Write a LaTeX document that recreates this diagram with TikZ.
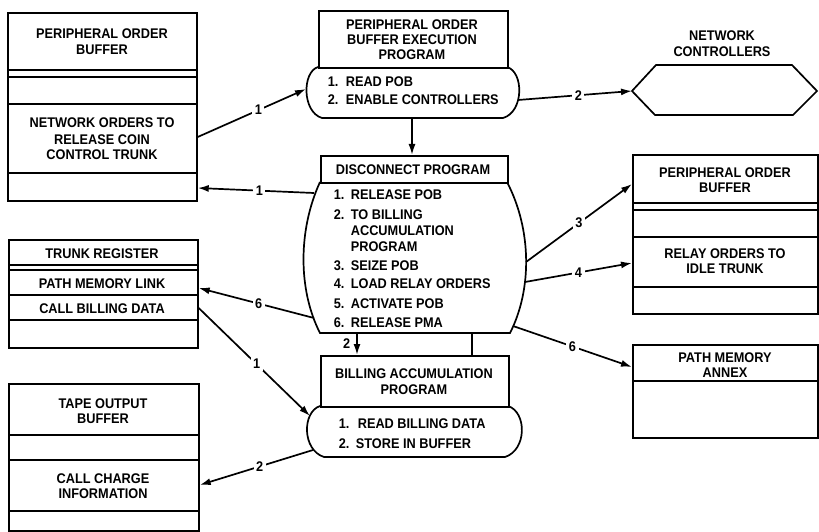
\documentclass[tikz,border=0pt]{standalone}
\usepackage{fontspec}
\setmainfont{Liberation Sans}[FakeStretch=0.91]
\usetikzlibrary{arrows.meta}
\begin{document}
\begin{tikzpicture}[x=1pt,y=-1pt, line width=1.7pt,
  box/.style={draw, rectangle, inner sep=0pt, anchor=north west},
  tx/.style={inner sep=0pt, anchor=base, font=\fontsize{14}{16}\selectfont\bfseries},
  txl/.style={tx, anchor=base west},
  arr/.style={-{Latex[length=11pt,width=7pt]}},
  lab/.style={fill=white, inner sep=2.5pt, font=\fontsize{14}{16}\selectfont\bfseries}]
\useasboundingbox (0,0) rectangle (819,532);

% ---------- left top: peripheral order buffer ----------
\node[box, minimum width=189pt, minimum height=188pt] (pobL) at (7,12) {};
\foreach \yy in {70,77,104,173} \draw (pobL.west |- 0,\yy) -- (pobL.east |- 0,\yy);
\node[tx] (pobLt1) at (102,39) {PERIPHERAL ORDER};
\node[tx] (pobLt2) at (102,55) {BUFFER};
\node[tx] (pobLb1) at (102,128) {NETWORK ORDERS TO};
\node[tx] (pobLb2) at (102,144) {RELEASE COIN};
\node[tx] (pobLb3) at (102,160) {CONTROL TRUNK};

% ---------- POB execution program ----------
\node[box, minimum width=189pt, minimum height=57pt] (pobep) at (318,10) {};
\node[tx] (pobept1) at (412,30) {PERIPHERAL ORDER};
\node[tx] (pobept2) at (412,45) {BUFFER EXECUTION};
\node[tx] (pobept3) at (412,60) {PROGRAM};
\draw (318,67) .. controls (302,72) and (302,112) .. (322,118) -- (503,118)
      .. controls (524,112) and (524,72) .. (507,67);
\node[txl] (pobepi1) at (327,87) {\makebox[18pt][l]{1.}READ POB};
\node[txl] (pobepi2) at (327,105) {\makebox[18pt][l]{2.}ENABLE CONTROLLERS};
\coordinate (pobepL) at (306,89);
\coordinate (pobepR) at (518,100);
\coordinate (pobepB) at (412,118);

% ---------- network controllers ----------
\coordinate (ncL) at (632,91);
\draw (ncL) -- (656,65) -- (792,65) -- (817,91) -- (793,115) -- (655,115) -- cycle;
\node[tx] (nct1) at (722,41) {NETWORK};
\node[tx] (nct2) at (722,57) {CONTROLLERS};

% ---------- disconnect program ----------
\node[box, minimum width=187pt, minimum height=27pt] (disc) at (320,155) {};
\node[tx] (disct) at (413,174) {DISCONNECT PROGRAM};
\draw (320,182) .. controls (298,230) and (298,290) .. (320,333) -- (510,333)
      .. controls (532,290) and (532,230) .. (507,182);
\node[txl] (di1) at (333,199) {\makebox[17pt][l]{1.}RELEASE POB};
\node[txl] (di2) at (333,219) {\makebox[17pt][l]{2.}TO BILLING};
\node[txl] (di2b) at (350,235) {ACCUMULATION};
\node[txl] (di2c) at (350,251) {PROGRAM};
\node[txl] (di3) at (333,270) {\makebox[17pt][l]{3.}SEIZE POB};
\node[txl] (di4) at (333,288) {\makebox[17pt][l]{4.}LOAD RELAY ORDERS};
\node[txl] (di5) at (333,308) {\makebox[17pt][l]{5.}ACTIVATE POB};
\node[txl] (di6) at (333,327) {\makebox[17pt][l]{6.}RELEASE PMA};
\coordinate (discT) at (412,155);
\coordinate (discL1) at (314,193);
\coordinate (discL6) at (314,318);
\coordinate (discR3) at (526,262);
\coordinate (discR4) at (525,282);
\coordinate (discR6) at (513,326);
\coordinate (discB2) at (357,333);
\coordinate (discB7) at (472,333);

% ---------- billing accumulation program ----------
\node[box, minimum width=188pt, minimum height=51pt] (bill) at (320,355) {};
\node[tx] (billt1) at (414,378) {BILLING ACCUMULATION};
\node[tx] (billt2) at (414,394) {PROGRAM};
\draw (320,406) .. controls (302,412) and (302,450) .. (324,457) -- (505,457)
      .. controls (527,450) and (527,412) .. (508,406);
\node[txl] (billi1) at (338,428) {\makebox[19pt][l]{1.}READ BILLING DATA};
\node[txl] (billi2) at (338,448) {\makebox[17pt][l]{2.}STORE IN BUFFER};
\coordinate (billT2) at (357,355);
\coordinate (billT7) at (472,355);
\coordinate (billL1) at (310,416);
\coordinate (billL2) at (313,450);

% ---------- trunk register ----------
\node[box, minimum width=189pt, minimum height=108pt] (trunk) at (8,239) {};
\foreach \yy in {265,270,295,320} \draw (trunk.west |- 0,\yy) -- (trunk.east |- 0,\yy);
\node[tx] (trt1) at (102,258) {TRUNK REGISTER};
\node[tx] (trt2) at (102,288) {PATH MEMORY LINK};
\node[tx] (trt3) at (102,313) {CALL BILLING DATA};

% ---------- tape output buffer ----------
\node[box, minimum width=190pt, minimum height=147pt] (tape) at (8,383) {};
\foreach \yy in {435,460,511} \draw (tape.west |- 0,\yy) -- (tape.east |- 0,\yy);
\node[tx] (tpt1) at (103,408) {TAPE OUTPUT};
\node[tx] (tpt2) at (103,423) {BUFFER};
\node[tx] (tpb1) at (103,483) {CALL CHARGE};
\node[tx] (tpb2) at (103,498) {INFORMATION};

% ---------- right: peripheral order buffer ----------
\node[box, minimum width=185pt, minimum height=159pt] (pobR) at (632,154) {};
\foreach \yy in {203,210,237,287} \draw (pobR.west |- 0,\yy) -- (pobR.east |- 0,\yy);
\node[tx] (pobRt1) at (725,177) {PERIPHERAL ORDER};
\node[tx] (pobRt2) at (725,192) {BUFFER};
\node[tx] (pobRb1) at (725,258) {RELAY ORDERS TO};
\node[tx] (pobRb2) at (725,273) {IDLE TRUNK};

% ---------- path memory annex ----------
\node[box, minimum width=185pt, minimum height=93pt] (pma) at (632,344) {};
\draw (pma.west |- 0,381) -- (pma.east |- 0,381);
\node[tx] (pmat1) at (725,362) {PATH MEMORY};
\node[tx] (pmat2) at (725,377) {ANNEX};

% ---------- connectors ----------
\draw[arr] (pobL.east |- 0,137) -- node[lab, pos=0.56] (l1a) {1} (pobepL);
\draw[arr] (discL1) -- node[lab, pos=0.47] (l1b) {1} (pobL.east |- 0,188);
\draw[arr] (pobepR) -- node[lab, pos=0.53] (l2a) {2} (ncL);
\draw[arr] (pobepB) -- (discT);
\draw[arr] (discR3) -- node[lab, pos=0.5] (l3) {3} (pobR.west |- 0,184);
\draw[arr] (discR4) -- node[lab, pos=0.5] (l4) {4} (pobR.west |- 0,263);
\draw[arr] (discR6) -- node[lab, pos=0.5] (l6r) {6} (pma.west |- 0,367);
\draw[arr] (discL6) -- node[lab, pos=0.48] (l6l) {6} (trunk.east |- 0,288);
\draw[arr] (trunk.east |- 0,308) -- node[lab, pos=0.52] (l1c) {1} (billL1);
\draw[arr] (billL2) -- node[lab, pos=0.47] (l2c) {2} (tape.east |- 0,485);
\draw[arr] (discB2) -- node[lab, left=6pt, fill=none, inner sep=0pt] (l2d) {2} (billT2);
\draw (discB7) -- (billT7);
\end{tikzpicture}
\end{document}
